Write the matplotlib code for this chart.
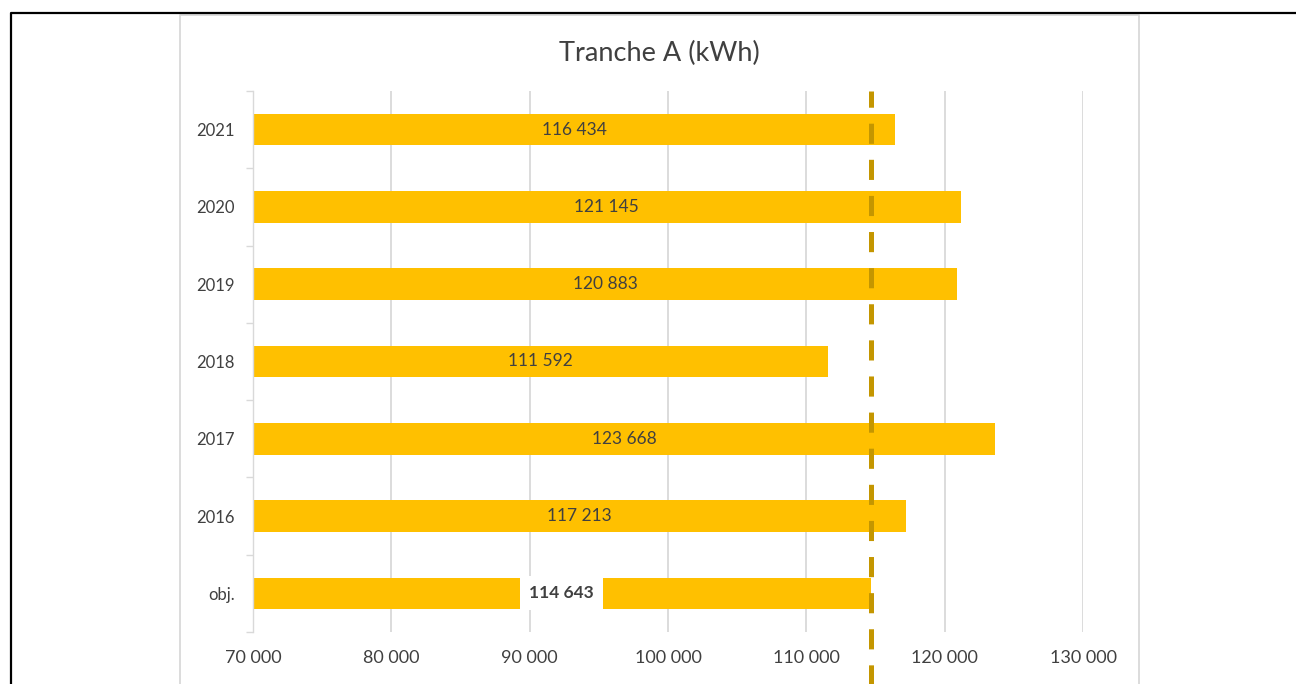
import matplotlib
matplotlib.use("Agg")
import matplotlib.pyplot as plt
from matplotlib.lines import Line2D

plt.rcParams['font.family'] = ['Lato', 'DejaVu Sans']
plt.rcParams['lines.scale_dashes'] = False

# Data
categories = ['obj.', '2016', '2017', '2018', '2019', '2020', '2021']
values = [114643, 117213, 123668, 111592, 120883, 121145, 116434]
objective = 114643
x_ticks = [70000, 80000, 90000, 100000, 110000, 120000, 130000]


def fmt(v):
    return f"{v:,}".replace(",", " ")


W, H = 1296, 684
fig = plt.figure(figsize=(W / 100, H / 100), dpi=100)
ax = fig.add_axes([253 / W, 1 - 632 / H, (1083 - 253) / W, (632 - 91) / H])

bar_color = '#FFC000'
text_color = '#404040'
grid_color = '#D9D9D9'

ypos = list(range(len(categories)))
ax.barh(ypos, [v - 70000 for v in values], left=70000, height=0.41,
        color=bar_color, zorder=2)

# data labels
for i, v in enumerate(values):
    xc = (70000 + v) / 2
    if categories[i] == 'obj.':
        ax.text(xc, i, fmt(v), ha='center', va='center', fontsize=12.5,
                fontweight='bold', color=text_color, zorder=4,
                bbox=dict(facecolor='white', edgecolor='none', pad=6.5))
    else:
        ax.text(xc, i, fmt(v), ha='center', va='center', fontsize=12.5,
                color=text_color, zorder=4)

# objective dashed line
ax.axvline(objective, ymin=-0.15, ymax=1.0, color='#C49600', lw=3.6,
           dashes=(14.5, 11.5), clip_on=False, zorder=3)

ax.set_xlim(70000, 130000)
ax.set_ylim(-0.5, len(categories) - 0.5)
ax.set_xticks(x_ticks)
ax.set_xticklabels([fmt(t) for t in x_ticks], fontsize=13, color=text_color)
ax.set_yticks(ypos)
ax.set_yticklabels(categories, fontsize=12, color=text_color)
ax.set_yticks([i - 0.5 for i in range(len(categories) + 1)], minor=True)
ax.tick_params(axis='x', length=0, pad=13)
ax.tick_params(axis='y', which='major', length=0, pad=13)
ax.tick_params(axis='y', which='minor', length=5, width=1, color=grid_color)

ax.grid(axis='x', color=grid_color, lw=1.3, zorder=0)
ax.set_axisbelow(True)
for s in ['top', 'right', 'bottom']:
    ax.spines[s].set_visible(False)
ax.spines['left'].set_color(grid_color)
ax.spines['left'].set_linewidth(1)

fig.text(659.5 / W, 1 - 53 / H, 'Tranche A (kWh)', ha='center', va='center',
         fontsize=19.5, color=text_color)

# chart frame (light gray) and outer black border
x0, x1, yt = 180 / W, 1139 / W, 1 - 15 / H
fig.add_artist(Line2D([x0, x0, x1, x1], [0, yt, yt, 0], color=grid_color, lw=1.3))
fig.add_artist(Line2D([11 / W, 11 / W, 1], [0, 1 - 13 / H, 1 - 13 / H],
                      color='black', lw=1.6))

fig.savefig('out.png', dpi=100)
